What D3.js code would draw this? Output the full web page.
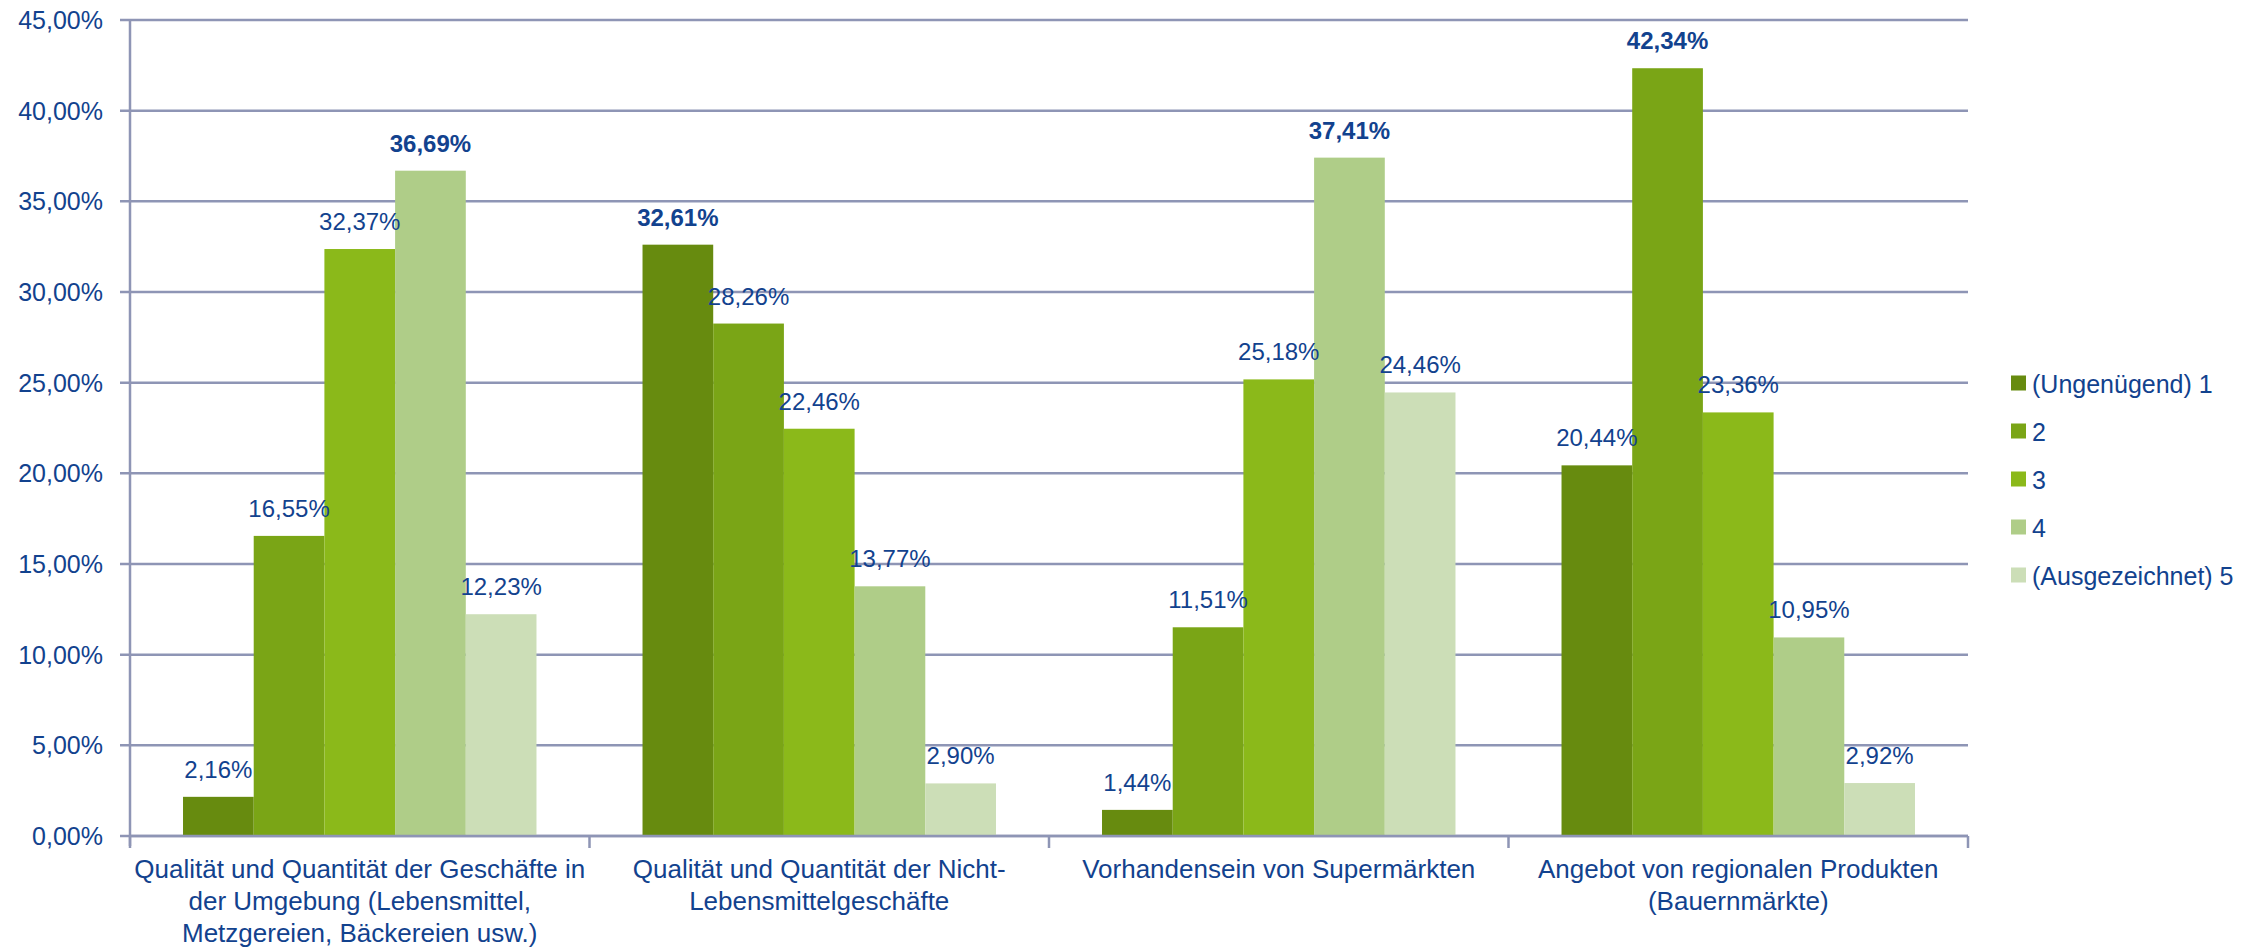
<!DOCTYPE html>
<html>
<head>
<meta charset="utf-8">
<script src="https://cdn.jsdelivr.net/npm/d3@7"></script>
<style>
  html, body { margin: 0; padding: 0; background: #fff; }
  svg { display: block; }
</style>
</head>
<body>
<div id="chart"></div>
<script>
const categories = [
  "Qualität und Quantität der Geschäfte in der Umgebung (Lebensmittel, Metzgereien, Bäckereien usw.)",
  "Qualität und Quantität der Nicht-Lebensmittelgeschäfte",
  "Vorhandensein von Supermärkten",
  "Angebot von regionalen Produkten (Bauernmärkte)"
];
const categoryLines = [
  ["Qualität und Quantität der Geschäfte in", "der Umgebung (Lebensmittel,", "Metzgereien, Bäckereien usw.)"],
  ["Qualität und Quantität der Nicht-", "Lebensmittelgeschäfte"],
  ["Vorhandensein von Supermärkten"],
  ["Angebot von regionalen Produkten", "(Bauernmärkte)"]
];
const seriesNames = ["(Ungenügend) 1", "2", "3", "4", "(Ausgezeichnet) 5"];
const seriesColors = ["#678B0F", "#7AA516", "#8BB91A", "#AFCD88", "#CCDEB7"];
// values per category, in series order (percent)
const values = [
  [2.16, 16.55, 32.37, 36.69, 12.23],
  [32.61, 28.26, 22.46, 13.77, 2.90],
  [1.44, 11.51, 25.18, 37.41, 24.46],
  [20.44, 42.34, 23.36, 10.95, 2.92]
];
const yTicks = [0, 5, 10, 15, 20, 25, 30, 35, 40, 45];

const width = 2259, height = 948;
const plotL = 130, plotR = 1968, plotT = 20, plotB = 836;
const textColor = "#12428E", gridColor = "#8E95B5";
const font = "Liberation Sans, Arial, sans-serif";
const comma = v => d3.format(".2f")(v).replace(".", ",") + "%";

const svg = d3.select("#chart").append("svg")
  .attr("width", width).attr("height", height);

const x0 = d3.scaleBand().domain(d3.range(categories.length)).range([plotL, plotR]).padding(0);
const x1 = d3.scaleBand().domain(d3.range(seriesNames.length))
  .range([0, x0.bandwidth()]).paddingInner(0).paddingOuter(0.75);
const y = d3.scaleLinear().domain([0, 45]).range([plotB, plotT]);

// gridlines (with short tick stubs left of the axis)
svg.append("g").selectAll("line").data(yTicks).join("line")
  .attr("x1", plotL - 10).attr("x2", plotR)
  .attr("y1", d => y(d)).attr("y2", d => y(d))
  .attr("stroke", gridColor).attr("stroke-width", 2.5);

// y axis line
svg.append("line")
  .attr("x1", plotL).attr("x2", plotL).attr("y1", y(45)).attr("y2", plotB + 10)
  .attr("stroke", gridColor).attr("stroke-width", 2.5);

// y tick labels
svg.append("g").selectAll("text").data(yTicks).join("text")
  .attr("x", 103).attr("y", d => y(d))
  .attr("text-anchor", "end").attr("dominant-baseline", "central")
  .attr("font-family", font).attr("font-size", 25)
  .attr("fill", textColor)
  .text(d => comma(d));

// bars
const groups = svg.append("g").selectAll("g").data(values).join("g")
  .attr("transform", (d, i) => `translate(${x0(i)},0)`);

groups.selectAll("rect").data(d => d).join("rect")
  .attr("x", (d, j) => x1(j))
  .attr("width", x1.bandwidth())
  .attr("y", d => y(d))
  .attr("height", d => plotB - y(d))
  .attr("fill", (d, j) => seriesColors[j]);

// data labels, group maximum in bold
groups.selectAll("text").data(d => d.map(v => ({v, max: v === d3.max(d)}))).join("text")
  .attr("x", (d, j) => x1(j) + x1.bandwidth() / 2)
  .attr("y", d => y(d.v) - 19)
  .attr("text-anchor", "middle")
  .attr("font-family", font)
  .attr("font-size", 24)
  .attr("font-weight", d => d.max ? "bold" : "normal")
  .attr("fill", textColor)
  .text(d => comma(d.v));

// x axis line
svg.append("line")
  .attr("x1", plotL).attr("x2", plotR).attr("y1", plotB).attr("y2", plotB)
  .attr("stroke", gridColor).attr("stroke-width", 2.5);

// x ticks at category boundaries
svg.append("g").selectAll("line").data(d3.range(categories.length + 1)).join("line")
  .attr("x1", i => plotL + i * x0.step()).attr("x2", i => plotL + i * x0.step())
  .attr("y1", plotB).attr("y2", plotB + 12)
  .attr("stroke", gridColor).attr("stroke-width", 2.5);

// category labels
const catG = svg.append("g").selectAll("text").data(categoryLines).join("text")
  .attr("text-anchor", "middle")
  .attr("font-family", font)
  .attr("font-size", 26)
  .attr("fill", textColor);
catG.selectAll("tspan").data((d, i) => d.map(l => ({l, i}))).join("tspan")
  .attr("x", d => x0(d.i) + x0.bandwidth() / 2)
  .attr("y", (d, k) => 878 + k * 32)
  .text(d => d.l);

// legend
const leg = svg.append("g").selectAll("g").data(seriesNames).join("g")
  .attr("transform", (d, i) => `translate(2011,${383 + i * 48})`);
leg.append("rect").attr("x", 0).attr("y", -7.5).attr("width", 15).attr("height", 15)
  .attr("fill", (d, i) => seriesColors[i]);
leg.append("text").attr("x", 21).attr("y", 1).attr("dominant-baseline", "central")
  .attr("font-family", font).attr("font-size", 25)
  .attr("fill", textColor).text(d => d);
</script>
</body>
</html>
